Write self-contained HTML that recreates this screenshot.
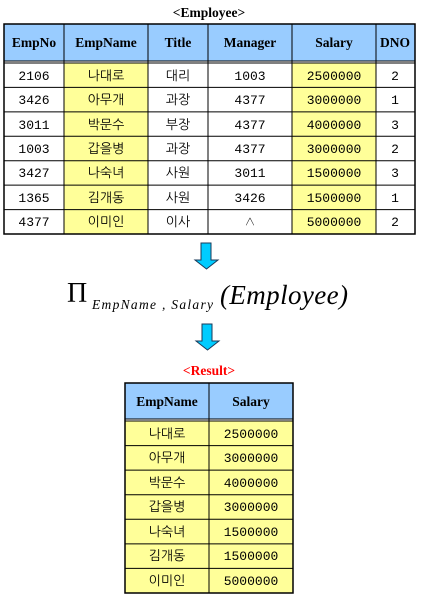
<!DOCTYPE html>
<html><head><meta charset="utf-8"><style>
html,body{margin:0;padding:0;background:#fff;}
svg{display:block}
.h{font-family:"Liberation Serif",serif;font-weight:bold;font-size:13.5px;}
.d{font-family:"Liberation Mono","NanumGothic",monospace;font-size:13px;}
.k{font-family:"Liberation Sans","NanumGothic","Noto Sans CJK KR",sans-serif;font-size:13px;}
</style></head><body>
<svg width="429" height="600" viewBox="0 0 429 600" xmlns="http://www.w3.org/2000/svg">
<text x="209" y="17" text-anchor="middle" class="h">&lt;Employee&gt;</text>
<rect x="4" y="24" width="411" height="37" fill="#99ccff"/>
<rect x="64" y="63" width="84" height="171" fill="#ffff99"/>
<rect x="292" y="63" width="84" height="171" fill="#ffff99"/>
<g stroke="#000" stroke-width="1">
<line x1="4" y1="61" x2="415" y2="61"/><line x1="4" y1="63" x2="415" y2="63"/>
<line x1="4" y1="87.4" x2="415" y2="87.4"/><line x1="4" y1="111.9" x2="415" y2="111.9"/>
<line x1="4" y1="136.3" x2="415" y2="136.3"/><line x1="4" y1="160.7" x2="415" y2="160.7"/>
<line x1="4" y1="185.1" x2="415" y2="185.1"/><line x1="4" y1="209.6" x2="415" y2="209.6"/>
<line x1="64" y1="24" x2="64" y2="234"/><line x1="148" y1="24" x2="148" y2="234"/>
<line x1="208" y1="24" x2="208" y2="234"/><line x1="292" y1="24" x2="292" y2="234"/>
<line x1="376" y1="24" x2="376" y2="234"/>
</g>
<rect x="4" y="24" width="411" height="210" fill="none" stroke="#000" stroke-width="1.5"/>
<g class="h" text-anchor="middle">
<text x="34" y="47">EmpNo</text><text x="106" y="47">EmpName</text><text x="178" y="47">Title</text>
<text x="250" y="47">Manager</text><text x="334" y="47">Salary</text><text x="395" y="47">DNO</text>
</g>
<g text-anchor="middle">
<g class="d"><text x="34" y="80">2106</text><text x="34" y="104">3426</text><text x="34" y="129">3011</text><text x="34" y="153">1003</text><text x="34" y="177">3427</text><text x="34" y="202">1365</text><text x="34" y="226">4377</text></g>
<g class="k"><text x="106" y="80">나대로</text><text x="106" y="104">아무개</text><text x="106" y="129">박문수</text><text x="106" y="153">갑을병</text><text x="106" y="177">나숙녀</text><text x="106" y="202">김개동</text><text x="106" y="226">이미인</text></g>
<g class="k"><text x="178" y="80">대리</text><text x="178" y="104">과장</text><text x="178" y="129">부장</text><text x="178" y="153">과장</text><text x="178" y="177">사원</text><text x="178" y="202">사원</text><text x="178" y="226">이사</text></g>
<g class="d"><text x="250" y="80">1003</text><text x="250" y="104">4377</text><text x="250" y="129">4377</text><text x="250" y="153">4377</text><text x="250" y="177">3011</text><text x="250" y="202">3426</text><text x="250" y="226">∧</text></g>
<g class="d"><text x="334" y="80">2500000</text><text x="334" y="104">3000000</text><text x="334" y="129">4000000</text><text x="334" y="153">3000000</text><text x="334" y="177">1500000</text><text x="334" y="202">1500000</text><text x="334" y="226">5000000</text></g>
<g class="d"><text x="395" y="80">2</text><text x="395" y="104">1</text><text x="395" y="129">3</text><text x="395" y="153">2</text><text x="395" y="177">3</text><text x="395" y="202">1</text><text x="395" y="226">2</text></g>
</g>
<polygon points="201,243 211,243 211,260 218,260 206.5,269 195,260 201,260" fill="#00ccff" stroke="#1a3a5a" stroke-width="1"/>
<polygon points="202,324 212,324 212,341 219,341 207.5,350 196,341 202,341" fill="#00ccff" stroke="#1a3a5a" stroke-width="1"/>
<text x="67" y="302" font-family="Liberation Serif,serif" font-size="28">Π</text>
<text x="92" y="309" font-family="Liberation Serif,serif" font-style="italic" font-size="13.5" textLength="121" lengthAdjust="spacing">EmpName , Salary</text>
<text x="220" y="304" font-family="Liberation Serif,serif" font-style="italic" font-size="27" textLength="128">(Employee)</text>
<text x="209" y="375" text-anchor="middle" class="h" fill="#ff0000">&lt;Result&gt;</text>
<rect x="125" y="383" width="168" height="36" fill="#99ccff"/>
<rect x="125" y="421" width="168" height="172" fill="#ffff99"/>
<g stroke="#000" stroke-width="1">
<line x1="125" y1="419" x2="293" y2="419"/><line x1="125" y1="421" x2="293" y2="421"/>
<line x1="125" y1="445.6" x2="293" y2="445.6"/><line x1="125" y1="470.1" x2="293" y2="470.1"/>
<line x1="125" y1="494.7" x2="293" y2="494.7"/><line x1="125" y1="519.3" x2="293" y2="519.3"/>
<line x1="125" y1="543.9" x2="293" y2="543.9"/><line x1="125" y1="568.4" x2="293" y2="568.4"/>
<line x1="209" y1="383" x2="209" y2="593"/>
</g>
<rect x="125" y="383" width="168" height="210" fill="none" stroke="#000" stroke-width="1.5"/>
<g text-anchor="middle">
<text x="167" y="406" class="h">EmpName</text><text x="251" y="406" class="h">Salary</text>
<g class="k"><text x="167" y="438">나대로</text><text x="167" y="462">아무개</text><text x="167" y="487">박문수</text><text x="167" y="511">갑을병</text><text x="167" y="536">나숙녀</text><text x="167" y="560">김개동</text><text x="167" y="585">이미인</text></g>
<g class="d"><text x="251" y="438">2500000</text><text x="251" y="462">3000000</text><text x="251" y="487">4000000</text><text x="251" y="511">3000000</text><text x="251" y="536">1500000</text><text x="251" y="560">1500000</text><text x="251" y="585">5000000</text></g>
</g>
</svg>
</body></html>
